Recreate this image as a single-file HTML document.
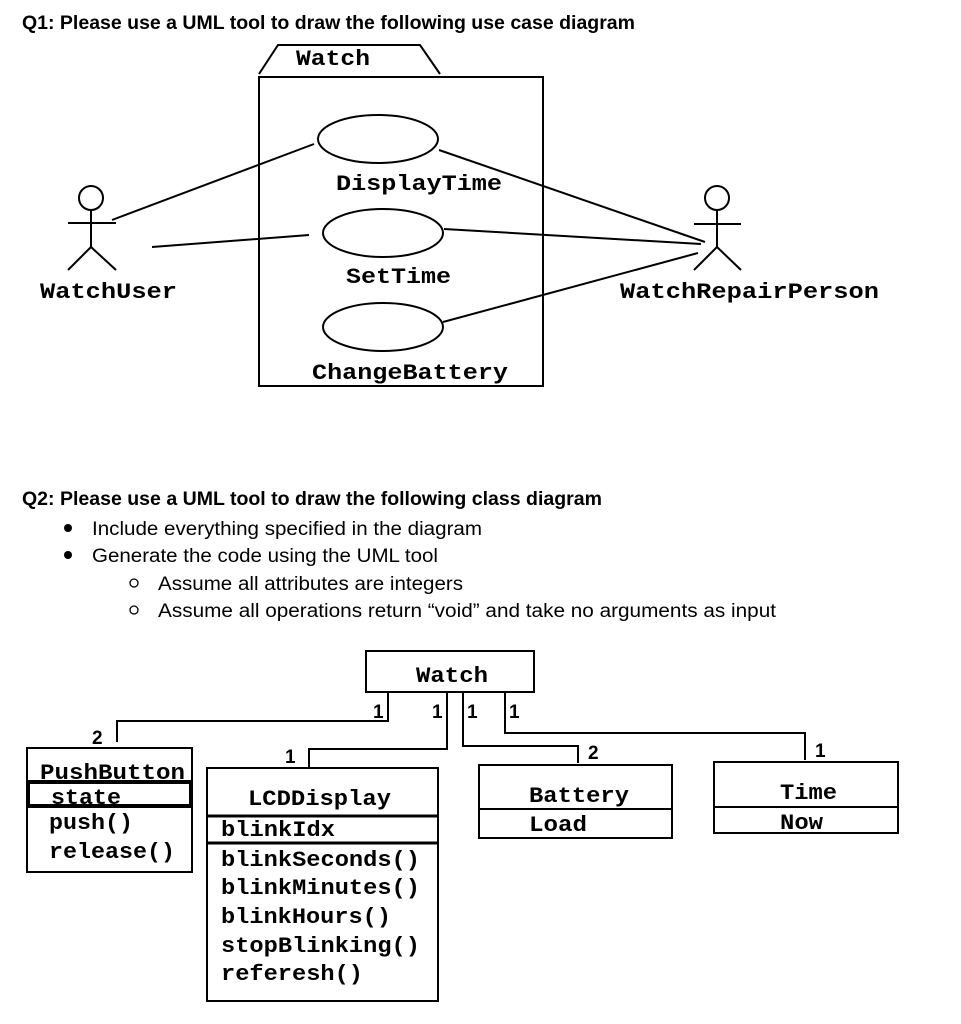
<!DOCTYPE html>
<html><head><meta charset="utf-8"><style>
html,body{margin:0;padding:0;background:#fff;}
svg{display:block;}
.t{font-family:"Liberation Sans",sans-serif;font-size:19px;fill:#000;}
.tb{font-family:"Liberation Sans",sans-serif;font-size:19px;font-weight:bold;fill:#000;}
.m{font-family:"Liberation Mono",monospace;font-weight:bold;font-size:22px;fill:#000;}
.n{font-family:"Liberation Sans",sans-serif;font-weight:bold;font-size:19px;fill:#000;}
</style></head><body>
<svg width="961" height="1024" viewBox="0 0 961 1024" xmlns="http://www.w3.org/2000/svg">
<g stroke="#000" stroke-width="2" fill="none">
<!-- Q1 -->
<polyline points="259,74 278,45 420,45 440,74"/>
<rect x="259" y="77" width="284" height="309"/>
<ellipse cx="378" cy="139" rx="60" ry="24"/>
<ellipse cx="383" cy="233" rx="60" ry="24"/>
<ellipse cx="383" cy="327" rx="60" ry="24"/>
<circle cx="91" cy="198" r="12"/>
<line x1="91" y1="210" x2="91" y2="247"/><line x1="68" y1="223" x2="116" y2="223"/>
<line x1="91" y1="247" x2="68" y2="270"/><line x1="91" y1="247" x2="116" y2="270"/>
<circle cx="717" cy="198" r="12"/>
<line x1="717" y1="210" x2="717" y2="247"/><line x1="694" y1="224" x2="741" y2="224"/>
<line x1="717" y1="247" x2="694" y2="270"/><line x1="717" y1="247" x2="741" y2="270"/>
<line x1="112" y1="220" x2="314" y2="144"/>
<line x1="152" y1="247" x2="309" y2="235"/>
<line x1="439" y1="150" x2="705" y2="242"/>
<line x1="444" y1="229" x2="701" y2="244"/>
<line x1="443" y1="322" x2="698" y2="253"/>
<!-- Q2 -->
<rect x="366" y="651" width="168" height="41"/>
<polyline points="388,692 388,721 117,721 117,742"/>
<polyline points="447,692 447,749 309,749 309,768"/>
<polyline points="463,692 463,746 578,746 578,763"/>
<polyline points="505,692 505,733 805,733 805,760"/>
<rect x="27" y="748" width="165" height="124"/>
<line x1="27" y1="781" x2="192" y2="781"/>
<rect x="29" y="783" width="161" height="22"/>
<line x1="27" y1="807" x2="192" y2="807"/>
<rect x="207" y="768" width="231" height="233"/>
<line x1="207" y1="816" x2="438" y2="816" stroke-width="3"/>
<line x1="207" y1="843" x2="438" y2="843" stroke-width="3"/>
<rect x="479" y="765" width="193" height="73"/>
<line x1="479" y1="809" x2="672" y2="809"/>
<rect x="714" y="762" width="184" height="71"/>
<line x1="714" y1="807" x2="898" y2="807"/>
</g>
<text class="tb" x="22" y="29" textLength="613" lengthAdjust="spacingAndGlyphs">Q1: Please use a UML tool to draw the following use case diagram</text>
<text class="m" x="296" y="65" textLength="74" lengthAdjust="spacingAndGlyphs">Watch</text>
<text class="m" x="336" y="190" textLength="166" lengthAdjust="spacingAndGlyphs">DisplayTime</text>
<text class="m" x="346" y="283" textLength="105" lengthAdjust="spacingAndGlyphs">SetTime</text>
<text class="m" x="312" y="379" textLength="196" lengthAdjust="spacingAndGlyphs">ChangeBattery</text>
<text class="m" x="40" y="298" textLength="137" lengthAdjust="spacingAndGlyphs">WatchUser</text>
<text class="m" x="620" y="298" textLength="259" lengthAdjust="spacingAndGlyphs">WatchRepairPerson</text>

<text class="tb" x="22" y="505" textLength="580" lengthAdjust="spacingAndGlyphs">Q2: Please use a UML tool to draw the following class diagram</text>
<circle cx="68" cy="528" r="4" fill="#000"/>
<circle cx="68" cy="555" r="4" fill="#000"/>
<text class="t" x="92" y="535" textLength="390" lengthAdjust="spacingAndGlyphs">Include everything specified in the diagram</text>
<text class="t" x="92" y="562" textLength="346" lengthAdjust="spacingAndGlyphs">Generate the code using the UML tool</text>
<circle cx="134" cy="583" r="4" fill="none" stroke="#000" stroke-width="1.3"/>
<circle cx="134" cy="610" r="4" fill="none" stroke="#000" stroke-width="1.3"/>
<text class="t" x="158" y="590" textLength="305" lengthAdjust="spacingAndGlyphs">Assume all attributes are integers</text>
<text class="t" x="158" y="617" textLength="618" lengthAdjust="spacingAndGlyphs">Assume all operations return “void” and take no arguments as input</text>

<text class="m" x="416" y="682" textLength="72" lengthAdjust="spacingAndGlyphs">Watch</text>
<text class="n" x="373" y="718">1</text>
<text class="n" x="432" y="718">1</text>
<text class="n" x="467" y="718">1</text>
<text class="n" x="509" y="718">1</text>
<text class="n" x="92" y="744">2</text>
<text class="n" x="285" y="763">1</text>
<text class="n" x="588" y="759">2</text>
<text class="n" x="815" y="757">1</text>
<text class="m" x="40" y="779" textLength="145" lengthAdjust="spacingAndGlyphs">PushButton</text>
<text class="m" x="51" y="804" textLength="70" lengthAdjust="spacingAndGlyphs">state</text>
<text class="m" x="49" y="829" textLength="84" lengthAdjust="spacingAndGlyphs">push()</text>
<text class="m" x="49" y="858" textLength="126" lengthAdjust="spacingAndGlyphs">release()</text>
<text class="m" x="248" y="805" textLength="143" lengthAdjust="spacingAndGlyphs">LCDDisplay</text>
<text class="m" x="221" y="836" textLength="114" lengthAdjust="spacingAndGlyphs">blinkIdx</text>
<text class="m" x="221" y="866" textLength="199" lengthAdjust="spacingAndGlyphs">blinkSeconds()</text>
<text class="m" x="221" y="894" textLength="199" lengthAdjust="spacingAndGlyphs">blinkMinutes()</text>
<text class="m" x="221" y="923" textLength="170" lengthAdjust="spacingAndGlyphs">blinkHours()</text>
<text class="m" x="221" y="952" textLength="199" lengthAdjust="spacingAndGlyphs">stopBlinking()</text>
<text class="m" x="221" y="980" textLength="142" lengthAdjust="spacingAndGlyphs">referesh()</text>
<text class="m" x="529" y="802" textLength="100" lengthAdjust="spacingAndGlyphs">Battery</text>
<text class="m" x="529" y="831" textLength="58" lengthAdjust="spacingAndGlyphs">Load</text>
<text class="m" x="780" y="799" textLength="57" lengthAdjust="spacingAndGlyphs">Time</text>
<text class="m" x="780" y="829" textLength="43" lengthAdjust="spacingAndGlyphs">Now</text>
</svg>
</body></html>
